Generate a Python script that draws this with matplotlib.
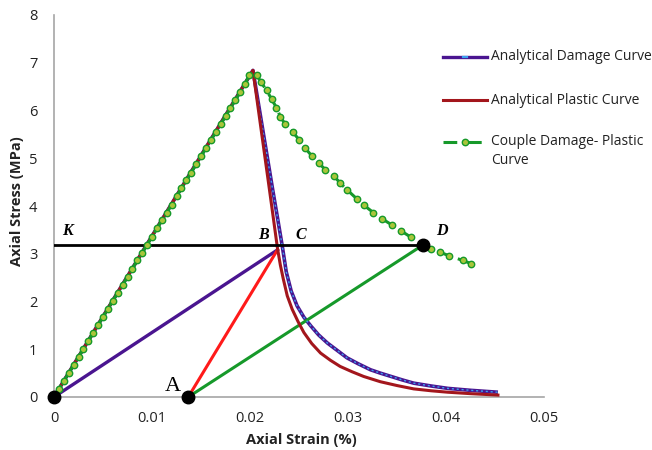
import matplotlib
matplotlib.use("Agg")
import matplotlib.pyplot as plt
from matplotlib.lines import Line2D

# ---------------- data ----------------
# Couple Damage-Plastic curve (green dashed with markers)
couple_strain = [0.0000, 0.0005, 0.0010, 0.0015, 0.0020, 0.0025, 0.0030, 0.0035, 0.0040, 0.0045,
                 0.0050, 0.0055, 0.0060, 0.0065, 0.0070, 0.0075, 0.0080, 0.0085, 0.0090, 0.0095,
                 0.0100, 0.0105, 0.0110, 0.0115, 0.0120, 0.0125, 0.0130, 0.0135, 0.0140, 0.0145,
                 0.0150, 0.0155, 0.0160, 0.0165, 0.0170, 0.0175, 0.0180, 0.0185, 0.0190, 0.0195,
                 0.0199, 0.0207, 0.0211, 0.0217, 0.0222, 0.0227, 0.0231, 0.0236, 0.0244, 0.0250,
                 0.0256, 0.0263, 0.0270, 0.0277, 0.0286, 0.0292, 0.0299, 0.0309, 0.0316, 0.0326,
                 0.0335, 0.0345, 0.0354, 0.0364, 0.0376, 0.0385, 0.0394, 0.0403, 0.0417, 0.0426]
couple_stress = [0.00, 0.17, 0.34, 0.50, 0.67, 0.84, 1.01, 1.18, 1.34, 1.51,
                 1.68, 1.85, 2.02, 2.18, 2.35, 2.52, 2.69, 2.86, 3.02, 3.19,
                 3.36, 3.53, 3.70, 3.86, 4.03, 4.20, 4.37, 4.54, 4.70, 4.87,
                 5.04, 5.21, 5.38, 5.54, 5.71, 5.88, 6.05, 6.22, 6.38, 6.55,
                 6.74, 6.74, 6.60, 6.42, 6.24, 6.06, 5.87, 5.71, 5.54, 5.39,
                 5.22, 5.05, 4.90, 4.76, 4.62, 4.48, 4.34, 4.15, 4.02, 3.86,
                 3.73, 3.60, 3.48, 3.35, 3.19, 3.10, 3.03, 2.96, 2.86, 2.79]

# Analytical Damage Curve (purple)
damage_strain = [0.0000, 0.0203, 0.0208, 0.0213, 0.0218, 0.0223, 0.0228, 0.0233, 0.0237, 0.0242,
                 0.0248, 0.0255, 0.0262, 0.0270, 0.0279, 0.0290, 0.0299, 0.0310, 0.0323, 0.0333,
                 0.0344, 0.0355, 0.0367, 0.0385, 0.0402, 0.0425, 0.0453]
damage_stress = [0.00, 6.84, 6.22, 5.60, 4.98, 4.36, 3.76, 3.15, 2.62, 2.22,
                 1.91, 1.67, 1.49, 1.30, 1.13, 0.96, 0.82, 0.70, 0.57, 0.50,
                 0.43, 0.36, 0.29, 0.23, 0.18, 0.14, 0.10]

# Analytical Plastic Curve (dark red)
plastic_strain = [0.0000, 0.0203, 0.0209, 0.0215, 0.0220, 0.0224, 0.0228, 0.0231, 0.0234, 0.0238,
                  0.0243, 0.0249, 0.0255, 0.0263, 0.0272, 0.0282, 0.0292, 0.0304, 0.0316, 0.0333,
                  0.0350, 0.0367, 0.0385, 0.0402, 0.0425, 0.0453]
plastic_stress = [0.00, 6.84, 5.95, 5.06, 4.32, 3.72, 3.12, 2.76, 2.47, 2.12,
                  1.84, 1.58, 1.35, 1.12, 0.92, 0.77, 0.64, 0.53, 0.43, 0.32,
                  0.24, 0.17, 0.13, 0.10, 0.07, 0.04]

# Construction lines / points
origin_pt = (0.0, 0.0)
point_A = (0.0137, 0.0)
point_B = (0.0228, 3.08)
point_D = (0.0377, 3.19)
point_K = (0.0, 3.19)

x_ticks = [0, 0.01, 0.02, 0.03, 0.04, 0.05]
x_tick_labels = ["0", "0.01", "0.02", "0.03", "0.04", "0.05"]
y_ticks = [0, 1, 2, 3, 4, 5, 6, 7, 8]

legend_labels = ["Analytical Damage Curve", "Analytical Plastic Curve",
                 "Couple Damage- Plastic\nCurve"]

# ---------------- style ----------------
W, H = 652, 450
PURPLE = "#4a1590"
DARKRED = "#a3161c"
BRIGHTRED = "#ff1a1a"
GREEN = "#16992a"
MFACE = "#a9c53a"
LBLUE = "#3aa0f0"
FONT = "Open Sans"

plt.rcParams["font.family"] = [FONT, "DejaVu Sans"]

fig = plt.figure(figsize=(W / 100, H / 100), dpi=100)
left, right, top, bottom = 54, 544, 15, 397
ax = fig.add_axes([left / W, 1 - bottom / H, (right - left) / W, (bottom - top) / H])


def fx(px):
    return px / W


def fy(py):
    return 1 - py / H


# analytical curves
ax.plot(damage_strain, damage_stress, color=PURPLE, lw=2.6, zorder=3, solid_capstyle="butt")
ax.plot(damage_strain[1:], damage_stress[1:], color=LBLUE, lw=1.0, zorder=4,
        linestyle=(0, (1.5, 2.0)))
ax.plot(plastic_strain, plastic_stress, color=DARKRED, lw=2.2, zorder=5)

# construction lines
ax.plot([origin_pt[0], point_B[0]], [origin_pt[1], point_B[1]], color=PURPLE, lw=2.4, zorder=3)
ax.plot([point_A[0], point_B[0]], [point_A[1], point_B[1]], color=BRIGHTRED, lw=2.2, zorder=3)
ax.plot([point_A[0], point_D[0]], [point_A[1], point_D[1]], color=GREEN, lw=2.2, zorder=3)
ax.plot([point_K[0], point_D[0]], [point_K[1], point_D[1]], color="black", lw=2.0, zorder=6)

# couple curve
ax.plot(couple_strain, couple_stress, color=GREEN, lw=2.2, linestyle=(0, (4.5, 2.5)),
        marker="o", markersize=4.6, markerfacecolor=MFACE, markeredgecolor=GREEN,
        markeredgewidth=1.0, zorder=7)

# black points
for p in (origin_pt, point_A, point_D):
    ax.plot([p[0]], [p[1]], "o", color="black", markersize=9, zorder=9, clip_on=False)

# point labels
lab_kw = dict(family=["Liberation Serif", "DejaVu Serif"], fontweight="bold", style="italic",
              fontsize=11.5, color="black", zorder=10)
ax.annotate("K", point_K, xytext=(6, 4), textcoords="offset points", ha="left", va="bottom", **lab_kw)
ax.annotate("B", point_B, xytext=(-10, 5), textcoords="offset points", ha="center", va="bottom", **lab_kw)
ax.annotate("C", point_B, xytext=(17, 5), textcoords="offset points", ha="center", va="bottom", **lab_kw)
ax.annotate("D", point_D, xytext=(13, 4), textcoords="offset points", ha="center", va="bottom", **lab_kw)
ax.annotate("A", point_A, xytext=(-11, 1), textcoords="offset points", ha="center", va="bottom",
            family=["Liberation Serif", "DejaVu Serif"], fontsize=16, color="black")

# axes styling
ax.set_xlim(0, 0.05)
ax.set_ylim(0, 8)
ax.set_xticks(x_ticks)
ax.set_xticklabels(x_tick_labels)
ax.set_yticks(y_ticks)
for s in ("top", "right"):
    ax.spines[s].set_visible(False)
for s in ("left", "bottom"):
    ax.spines[s].set_color("#a6a6a6")
    ax.spines[s].set_linewidth(1.2)
ax.tick_params(axis="both", length=0, labelsize=10.5, colors="#222222")
ax.tick_params(axis="x", pad=10)
ax.tick_params(axis="y", pad=12)

fig.text(fx(301), fy(440), "Axial Strain (%)", ha="center", va="center",
         fontsize=10.5, fontweight="bold", color="#222222")
fig.text(fx(17), fy(201), "Axial Stress (MPa)", ha="center", va="center", rotation=90,
         fontsize=10.5, fontweight="bold", color="#222222")

# legend (manual, outside the axes)
lx0, lx1, tx = 443, 487, 491
rows = [57, 100, 142]
fig.add_artist(Line2D([fx(lx0), fx(lx1)], [fy(rows[0])] * 2, color=PURPLE, lw=2.4,
                      transform=fig.transFigure))
fig.add_artist(Line2D([fx(463), fx(467)], [fy(rows[0])] * 2, color=LBLUE, lw=1.6,
                      transform=fig.transFigure))
fig.add_artist(Line2D([fx(lx0), fx(lx1)], [fy(rows[1])] * 2, color=DARKRED, lw=2.2,
                      transform=fig.transFigure))
fig.add_artist(Line2D([fx(lx0), fx(lx1)], [fy(rows[2])] * 2, color=GREEN, lw=2.2,
                      linestyle=(0, (4.5, 3.5)), transform=fig.transFigure))
fig.add_artist(Line2D([fx(465)], [fy(rows[2])], color=GREEN, lw=0, marker="o", markersize=4.6,
                      markerfacecolor=MFACE, markeredgecolor=GREEN, markeredgewidth=1.0,
                      transform=fig.transFigure))
fig.text(fx(tx), fy(rows[0]), legend_labels[0], ha="left", va="center", fontsize=10, color="#222222")
fig.text(fx(tx), fy(rows[1]), legend_labels[1], ha="left", va="center", fontsize=10, color="#222222")
fig.text(fx(tx), fy(rows[2] - 8), legend_labels[2], ha="left", va="top", fontsize=10, color="#222222",
         linespacing=1.4)

fig.savefig("out.png", dpi=100)
